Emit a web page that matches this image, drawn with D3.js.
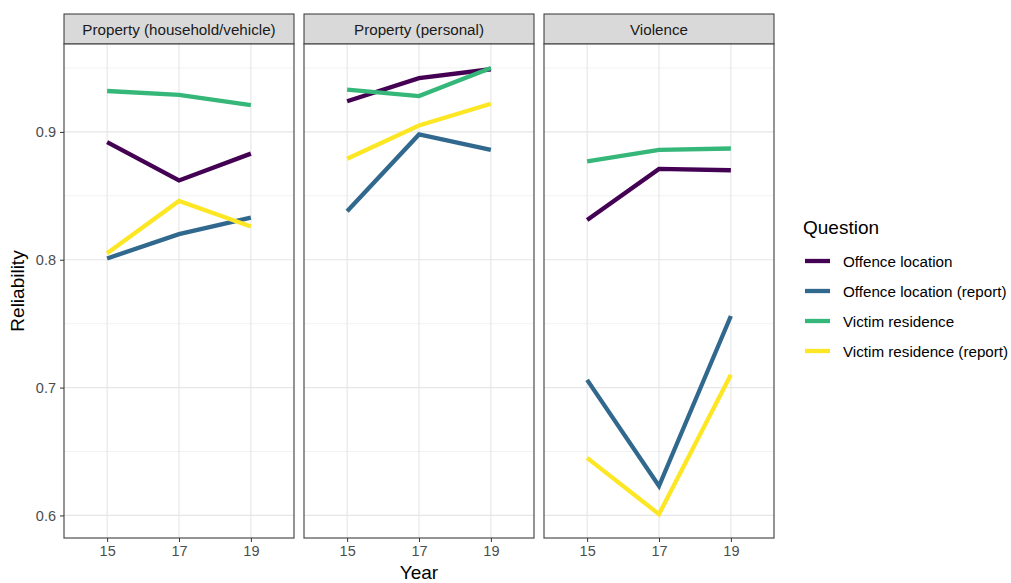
<!DOCTYPE html>
<html>
<head>
<meta charset="utf-8">
<script src="https://cdn.jsdelivr.net/npm/d3@7"></script>
<style>
  body { margin: 0; background: #fff; }
  svg { font-family: "Liberation Sans", Arial, sans-serif; }
</style>
</head>
<body>
<div id="chart"></div>
<script>
(function (d3) {
  'use strict';

  // data
  var years = ["15", "17", "19"];
  var panels = ["Property (household/vehicle)", "Property (personal)", "Violence"];
  var questions = ["Offence location", "Offence location (report)", "Victim residence", "Victim residence (report)"];
  var colours = ["#440154", "#31688E", "#35B779", "#FDE725"];

  // values per question, per panel, per year
  var offenceLocation = [[0.892, 0.862, 0.883], [0.924, 0.942, 0.949], [0.831, 0.871, 0.870]];
  var offenceLocationReport = [[0.801, 0.820, 0.833], [0.838, 0.898, 0.886], [0.706, 0.623, 0.756]];
  var victimResidence = [[0.932, 0.929, 0.921], [0.933, 0.928, 0.950], [0.877, 0.886, 0.887]];
  var victimResidenceReport = [[0.805, 0.846, 0.826], [0.879, 0.905, 0.922], [0.645, 0.601, 0.710]];
  var seriesValues = [offenceLocation, offenceLocationReport, victimResidence, victimResidenceReport];

  var yTicks = [0.6, 0.7, 0.8, 0.9];
  var yMinor = [0.65, 0.75, 0.85, 0.95];

  var width = 1011, height = 583;
  var margin = { top: 14, left: 64 };
  var panelW = 230, panelGap = 10, stripH = 30, plotH = 494;

  var svg = d3.select("#chart").append("svg")
    .attr("width", width).attr("height", height);

  var x = d3.scalePoint().domain(years).range([0, panelW]).padding(0.6);
  var y = d3.scaleLinear().domain([0.58234, 0.96875]).range([plotH, 0]);

  var line = d3.line()
    .x(function (d, i) { return x(years[i]); })
    .y(function (d) { return y(d); });

  var colour = d3.scaleOrdinal().domain(questions).range(colours);

  panels.forEach(function (name, p) {
    var g = svg.append("g")
      .attr("transform", "translate(" + (margin.left + p * (panelW + panelGap)) + "," + margin.top + ")");

    // strip
    g.append("rect").attr("x", 0).attr("y", 0).attr("width", panelW).attr("height", stripH)
      .attr("fill", "#d9d9d9").attr("stroke", "#333").attr("stroke-width", 1);
    g.append("text").attr("x", panelW / 2).attr("y", stripH / 2 + 5.5)
      .attr("text-anchor", "middle").attr("font-size", 15.2).attr("fill", "#1a1a1a")
      .text(name);

    var pg = g.append("g").attr("transform", "translate(0," + stripH + ")");
    pg.append("rect").attr("width", panelW).attr("height", plotH).attr("fill", "#fff");

    // grid
    pg.selectAll(".minor").data(yMinor).enter().append("line")
      .attr("x1", 0).attr("x2", panelW)
      .attr("y1", function (d) { return y(d); }).attr("y2", function (d) { return y(d); })
      .attr("stroke", "#f2f2f2").attr("stroke-width", 1);
    pg.selectAll(".major").data(yTicks).enter().append("line")
      .attr("x1", 0).attr("x2", panelW)
      .attr("y1", function (d) { return y(d); }).attr("y2", function (d) { return y(d); })
      .attr("stroke", "#e6e6e6").attr("stroke-width", 1.1);
    pg.selectAll(".vgrid").data(years).enter().append("line")
      .attr("x1", function (d) { return x(d); }).attr("x2", function (d) { return x(d); })
      .attr("y1", 0).attr("y2", plotH)
      .attr("stroke", "#e6e6e6").attr("stroke-width", 1.1);

    // lines
    seriesValues.forEach(function (s, q) {
      pg.append("path").datum(s[p])
        .attr("d", line)
        .attr("fill", "none")
        .attr("stroke", colour(questions[q]))
        .attr("stroke-width", 4.3);
    });

    // border
    pg.append("rect").attr("width", panelW).attr("height", plotH)
      .attr("fill", "none").attr("stroke", "#4d4d4d").attr("stroke-width", 1.2);

    // x axis
    var xAxis = d3.axisBottom(x).tickSize(4).tickPadding(4);
    var xg = pg.append("g").attr("transform", "translate(0," + plotH + ")").call(xAxis);
    xg.select(".domain").remove();
    xg.selectAll("line").attr("stroke", "#333");
    xg.selectAll("text").attr("font-size", 14.5).attr("fill", "#4d4d4d")
      .attr("font-family", "Liberation Sans, Arial, sans-serif");

    if (p === 0) {
      var yAxis = d3.axisLeft(y).tickValues(yTicks).tickFormat(d3.format(".1f")).tickSize(4).tickPadding(4);
      var yg = pg.append("g").call(yAxis);
      yg.select(".domain").remove();
      yg.selectAll("line").attr("stroke", "#333");
      yg.selectAll("text").attr("font-size", 14.5).attr("fill", "#4d4d4d")
        .attr("font-family", "Liberation Sans, Arial, sans-serif");
    }
  });

  // axis titles
  svg.append("text").attr("x", margin.left + (3 * panelW + 2 * panelGap) / 2).attr("y", 579)
    .attr("text-anchor", "middle").attr("font-size", 19).attr("fill", "#000").text("Year");
  svg.append("text")
    .attr("transform", "translate(24," + (margin.top + stripH + plotH / 2) + ") rotate(-90)")
    .attr("text-anchor", "middle").attr("font-size", 19).attr("fill", "#000").text("Reliability");

  // legend
  var lg = svg.append("g").attr("transform", "translate(805,0)");
  lg.append("text").attr("x", -2).attr("y", 234).attr("font-size", 19).attr("fill", "#000").text("Question");
  questions.forEach(function (q, i) {
    var yy = 261 + i * 30;
    lg.append("line").attr("x1", 0).attr("x2", 25).attr("y1", yy).attr("y2", yy)
      .attr("stroke", colour(q)).attr("stroke-width", 4.3);
    lg.append("text").attr("x", 38).attr("y", yy + 5.5).attr("font-size", 15.2).attr("fill", "#000").text(q);
  });
})(d3);
</script>
</body>
</html>
